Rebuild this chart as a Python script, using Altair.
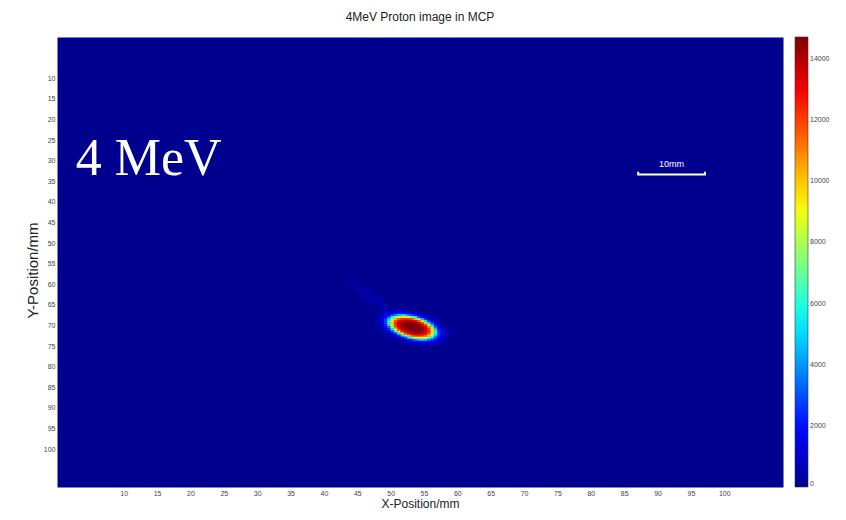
import altair as alt
import pandas as pd

# ---------------- data ----------------
X_TICKS = [10, 15, 20, 25, 30, 35, 40, 45, 50, 55, 60, 65, 70, 75, 80, 85, 90, 95, 100]
Y_TICKS = [10, 15, 20, 25, 30, 35, 40, 45, 50, 55, 60, 65, 70, 75, 80, 85, 90, 95, 100]
CBAR_TICKS = [0, 2000, 4000, 6000, 8000, 10000, 12000, 14000]
X_RANGE = [0, 108.8]
Y_RANGE = [0, 109.2]

# proton spot: 0.5 mm cells, one list per image row
ROW_Y = [66.0, 66.5, 67.0, 67.5, 68.0, 68.5, 69.0, 69.5, 70.0, 70.5,
         71.0, 71.5, 72.0, 72.5, 73.0, 73.5, 74.0, 74.5, 75.0]
ROW_X0 = [50.0, 48.75, 48.25, 48.25, 47.75, 47.75, 47.75, 47.75, 48.25, 48.25,
          48.75, 48.75, 49.25, 49.75, 50.25, 51.25, 51.75, 52.75, 54.5]
ROW_VALUES = [
    [330, 360, 370, 360, 330],
    [320, 450, 600, 720, 840, 900, 840, 720, 600, 450, 320],
    [340, 530, 800, 1100, 1500, 1800, 1900, 1900, 1800, 1500, 1100, 800, 530, 340],
    [470, 800, 1300, 2000, 2800, 3700, 4700, 5000, 4700, 3700, 2800, 2000, 1300, 800, 470],
    [330, 600, 1100, 1900, 3100, 5400, 7400, 8800, 9400, 9400, 8800, 7400, 5400, 3100, 1900, 1100, 600, 330],
    [350, 700, 1300, 2500, 4800, 7800, 10100, 11600, 12300, 12500, 12300, 11600, 10100, 7800, 4800, 2500, 1300, 700, 350],
    [350, 700, 1400, 2800, 5900, 9300, 11600, 12900, 13500, 13800, 13800, 13500, 12900, 11600, 9300, 5900, 2800, 1400, 700, 350],
    [300, 600, 1300, 2700, 6000, 9700, 12200, 13500, 14100, 14400, 14500, 14400, 14100, 13500, 12200, 9700, 6000, 2700, 1300, 600, 300],
    [510, 1080, 2250, 5200, 9300, 12100, 13500, 14200, 14600, 14700, 14700, 14600, 14200, 13500, 12100, 9300, 5200, 2250, 1080, 510],
    [350, 800, 1700, 3400, 7700, 11200, 13100, 14100, 14500, 14700, 14700, 14700, 14500, 14100, 13100, 11200, 7700, 3400, 1700, 800, 350],
    [510, 1080, 2250, 5200, 9300, 12100, 13500, 14200, 14600, 14700, 14700, 14600, 14200, 13500, 12100, 9300, 5200, 2250, 1080, 510],
    [300, 600, 1300, 2700, 6000, 9700, 12200, 13500, 14100, 14400, 14500, 14400, 14100, 13500, 12200, 9700, 6000, 2700, 1300, 600, 300],
    [350, 700, 1400, 2800, 5900, 9300, 11600, 12900, 13500, 13800, 13800, 13500, 12900, 11600, 9300, 5900, 2800, 1400, 700, 350],
    [350, 700, 1300, 2500, 4800, 7800, 10100, 11600, 12300, 12500, 12300, 11600, 10100, 7800, 4800, 2500, 1300, 700, 350],
    [330, 600, 1100, 1900, 3100, 5400, 7400, 8800, 9400, 9400, 8800, 7400, 5400, 3100, 1900, 1100, 600, 330],
    [470, 800, 1300, 2000, 2800, 3700, 4700, 5000, 4700, 3700, 2800, 2000, 1300, 800, 470],
    [340, 530, 800, 1100, 1500, 1800, 1900, 1900, 1800, 1500, 1100, 800, 530, 340],
    [320, 450, 600, 720, 840, 900, 840, 720, 600, 450, 320],
    [330, 360, 370, 360, 330],
]
CELL = 0.5

# faint tail towards the upper left (1 mm cells)
TAIL_X = [44.0, 45.0, 44.5, 45.5, 45.5, 46.5, 46.0, 47.0, 47.0, 48.0, 47.5, 48.5, 49.0]
TAIL_Y = [59.5, 59.5, 60.5, 60.5, 61.5, 61.5, 62.5, 62.5, 63.5, 63.5, 64.5, 64.5, 65.5]
TAIL_V = [250, 180, 350, 300, 430, 380, 480, 450, 520, 480, 550, 550, 520]
TAIL_CELL = 1.0

# 10 mm scale bar
BAR_X = [87.1, 87.1, 97.1, 97.1]
BAR_Y = [32.7, 33.36, 33.36, 32.7]

# text annotations (label, x, y)
NOTE_TEXT = ["10mm", "4 MeV"]
NOTE_X = [92.1, 2.8]
NOTE_Y = [30.7, 33.6]

# jet colour map stops
JET_DOMAIN = [0, 1840, 5520, 9200, 12880, 14720]
JET_RANGE = ["#00008f", "#0000ff", "#00ffff", "#ffff00", "#ff0000", "#800000"]

# ---------------- tables ----------------
rows = []
pad = 0.03
for tx, ty, tv in zip(TAIL_X, TAIL_Y, TAIL_V):
    h = TAIL_CELL / 2 + pad
    rows.append({"x": tx - h, "x2": tx + h, "y": ty - h, "y2": ty + h, "v": tv})
for ry, rx0, vals in zip(ROW_Y, ROW_X0, ROW_VALUES):
    h = CELL / 2 + pad
    for i, v in enumerate(vals):
        cx = rx0 + i * CELL
        rows.append({"x": cx - h, "x2": cx + h, "y": ry - h, "y2": ry + h, "v": v})
cells = pd.DataFrame(rows)

bar = pd.DataFrame({"x": BAR_X, "y": BAR_Y, "o": list(range(len(BAR_X)))})
notes = pd.DataFrame({"t": NOTE_TEXT, "x": NOTE_X, "y": NOTE_Y})

FONT = "Liberation Sans"

xscale = alt.Scale(domain=X_RANGE, nice=False, zero=False)
yscale = alt.Scale(domain=Y_RANGE, nice=False, zero=False, reverse=True)
xaxis = alt.Axis(values=X_TICKS, title="X-Position/mm", labelPadding=2,
                 titlePadding=2, titleFontSize=12, labelOverlap=False)
yaxis = alt.Axis(values=Y_TICKS, title="Y-Position/mm", labelPadding=2,
                 titlePadding=3, titleFontSize=15, labelOverlap=False, titleY=233)
X_ENC = alt.X("x:Q", scale=xscale, axis=xaxis)
Y_ENC = alt.Y("y:Q", scale=yscale, axis=yaxis)

heat = alt.Chart(cells).mark_rect(strokeWidth=0).encode(
    x=X_ENC, x2="x2:Q", y=Y_ENC, y2="y2:Q",
    color=alt.Color("v:Q",
                    scale=alt.Scale(domain=JET_DOMAIN, range=JET_RANGE, interpolate="rgb"),
                    legend=alt.Legend(title=None, orient="right", offset=12,
                                      direction="vertical", gradientLength=450,
                                      gradientThickness=13, values=CBAR_TICKS, format="d",
                                      labelFontSize=7, labelColor="#444", labelFont=FONT,
                                      labelOffset=2, gradientStrokeColor="#333",
                                      gradientStrokeWidth=0.6, labelOverlap=False)),
)

scale_bar = alt.Chart(bar).mark_line(color="white", strokeWidth=2).encode(
    x=X_ENC, y=Y_ENC, order="o:O"
)

bar_text = alt.Chart(notes).transform_filter(alt.datum.t == "10mm").mark_text(
    color="white", fontSize=9, font=FONT, baseline="middle"
).encode(x=X_ENC, y=Y_ENC, text="t:N")

big_text = alt.Chart(notes).transform_filter(alt.datum.t == "4 MeV").mark_text(
    color="white", fontSize=52, font="Liberation Serif",
    align="left", baseline="alphabetic"
).encode(x=X_ENC, y=Y_ENC, text="t:N")

chart = alt.layer(heat, scale_bar, bar_text, big_text).properties(
    width=726, height=450,
    title=alt.TitleParams("4MeV Proton image in MCP", fontSize=12, font=FONT,
                          fontWeight="normal", color="#222", offset=13),
    autosize=alt.AutoSizeParams(type="none"),
    padding={"left": 49, "top": 29, "right": 55, "bottom": 25},
).configure_view(
    fill="#00008f", stroke="transparent"
).configure_axis(
    labelFont=FONT, labelFontSize=7, labelColor="#444", titleFont=FONT,
    titleFontWeight="normal", titleColor="#222", grid=False, ticks=False,
    tickSize=0, domain=False
)

chart.save("out.html", embed_options={"renderer": "svg", "actions": False})
